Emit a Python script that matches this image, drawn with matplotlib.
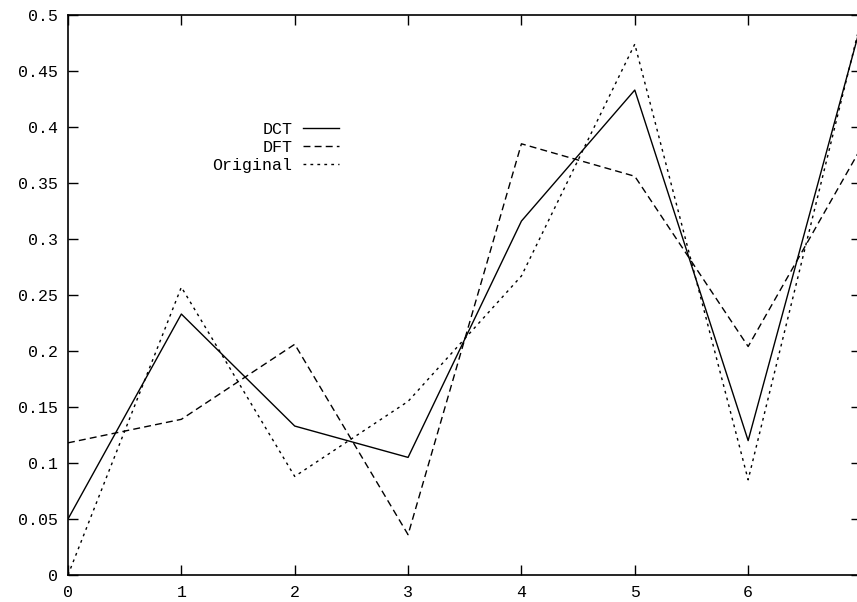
import matplotlib
matplotlib.use("Agg")
import matplotlib.pyplot as plt

x = [0, 1, 2, 3, 4, 5, 6, 7]
dct = [0.05, 0.233, 0.133, 0.105, 0.316, 0.433, 0.12, 0.493]
dft = [0.118, 0.139, 0.206, 0.036, 0.385, 0.356, 0.204, 0.382]
orig = [0.0, 0.257, 0.088, 0.155, 0.267, 0.474, 0.085, 0.497]
xticks = [0, 1, 2, 3, 4, 5, 6]
yticks = [0, 0.05, 0.1, 0.15, 0.2, 0.25, 0.3, 0.35, 0.4, 0.45, 0.5]
ytick_labels = ["0", "0.05", "0.1", "0.15", "0.2", "0.25", "0.3", "0.35", "0.4", "0.45", "0.5"]

plt.rcParams['font.family'] = ['Liberation Mono', 'DejaVu Sans Mono']
fig = plt.figure(figsize=(8.57, 6.02), dpi=100)
W, H = 857, 602
left, right, top, bottom = 68, 861.5, 15, 575
ax = fig.add_axes([left / W, (H - bottom) / H, (right - left) / W, (bottom - top) / H])
ax.set_xlim(0, 7)
ax.set_ylim(0, 0.5)

ax.plot(x, dct, color='black', lw=1.0, linestyle='-', label='DCT')
ax.plot(x, dft, color='black', lw=1.0, linestyle=(0, (5, 3)), label='DFT')
ax.plot(x, orig, color='black', lw=1.0, linestyle=(0, (2, 3)), label='Original')

ax.set_xticks(xticks)
ax.set_xticklabels([str(t) for t in xticks])
ax.set_yticks(yticks)
ax.set_yticklabels(ytick_labels)
ax.tick_params(direction='in', top=True, right=True, length=7, width=1,
               labelsize=12, color='black', pad=7)
for s in ax.spines.values():
    s.set_linewidth(1.2)

leg = ax.legend(loc='upper right',
                bbox_to_anchor=((339 - left) / (right - left), (bottom - 122) / (bottom - top)),
                markerfirst=False, frameon=False, handlelength=2.15, handletextpad=0.65,
                labelspacing=0.17, prop={'size': 12, 'family': 'Liberation Mono'},
                borderaxespad=0, borderpad=0)

fig.savefig('out.png', dpi=100)
